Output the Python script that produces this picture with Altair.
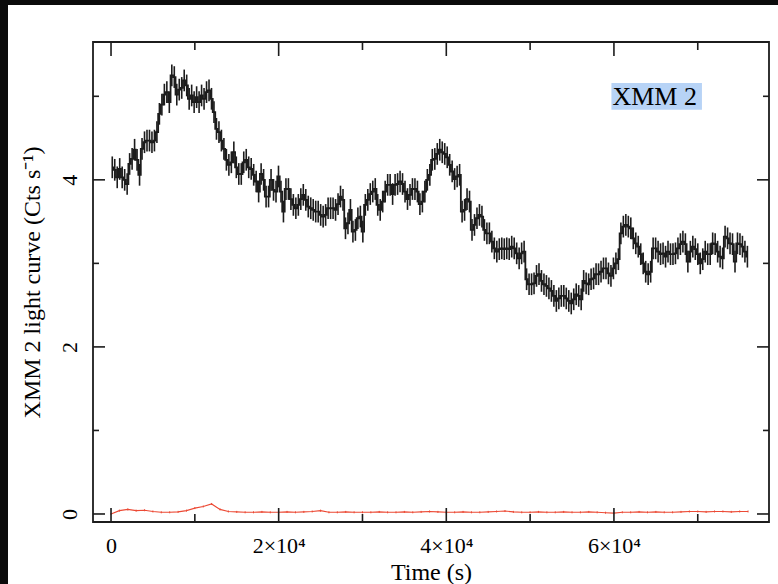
import altair as alt
import pandas as pd

# ---------------- data ----------------
BIN = 296  # s, light-curve bin width
RATE = [
    # 0 - ~19000 s
    4.15, 4.12, 4.03, 4.13, 4.03, 4.0, 3.95, 4.19, 4.25, 4.36,
    4.24, 4.06, 4.37, 4.45, 4.47, 4.47, 4.45, 4.47, 4.57, 4.79,
    4.9, 5.02, 5.05, 4.93, 5.25, 5.23, 5.02, 5.08, 5.1, 5.19,
    5.13, 4.97, 5.01, 4.93, 4.99, 4.93, 5.01, 4.97, 5.05, 5.07,
    4.97, 4.81, 4.61, 4.57, 4.47, 4.37, 4.24, 4.18, 4.21, 4.33,
    4.15, 4.07, 4.07, 4.21, 4.24, 4.15, 4.13, 4.06, 3.98, 3.86,
    4.07, 4.0, 3.80, 3.80,
    # ~19000 - 38500 s
    4.0, 3.88, 3.86, 4.04, 3.86, 3.62, 3.89, 3.89, 3.77, 3.70, 3.66,
    3.70, 3.77, 3.82, 3.76, 3.68, 3.66, 3.64, 3.62, 3.62, 3.58,
    3.56, 3.58, 3.66, 3.66, 3.66, 3.64, 3.71, 3.80, 3.76, 3.42,
    3.48, 3.64, 3.38, 3.40, 3.54, 3.56, 3.38, 3.70, 3.76, 3.83,
    3.86, 3.89, 3.70, 3.64, 3.74, 3.86, 3.94, 3.94, 3.83, 3.94,
    3.95, 3.98, 3.95, 3.86, 3.77, 3.82, 3.89, 3.89, 3.86, 3.71,
    3.74, 3.86, 4.0, 4.06, 4.24,
    # ~38500 - 58500 s
    4.25, 4.31, 4.36, 4.33, 4.31, 4.27, 4.18, 4.10, 4.01, 4.04,
    4.06, 3.62, 3.64, 3.77, 3.74, 3.40, 3.46, 3.54, 3.58, 3.56,
    3.40, 3.36, 3.36, 3.26, 3.18, 3.14, 3.17, 3.18, 3.17, 3.18,
    3.17, 3.20, 3.18, 3.12, 3.06, 3.12, 3.14, 2.81, 2.75, 2.75,
    2.76, 2.85, 2.87, 2.79, 2.75, 2.73, 2.70, 2.67, 2.61, 2.55,
    2.58, 2.61, 2.61, 2.58, 2.55, 2.52, 2.57, 2.63, 2.61, 2.57,
    2.79, 2.76, 2.75, 2.81, 2.82, 2.87, 2.87,
    # ~58500 - 76000 s
    2.90, 2.94, 2.94, 2.88, 2.85, 2.94, 3.0, 3.05, 3.36, 3.44,
    3.46, 3.44, 3.42, 3.30, 3.24, 3.20, 3.11, 3.0, 2.90, 2.87,
    2.90, 3.18, 3.18, 3.14, 3.11, 3.12, 3.08, 3.14, 3.11, 3.11,
    3.12, 3.18, 3.23, 3.26, 3.23, 3.02, 3.14, 3.20, 3.17, 3.11,
    3.0, 3.05, 3.14, 3.11, 3.11, 3.24, 3.23, 3.14, 3.08, 3.06,
    3.32, 3.30, 3.24, 3.23, 3.02, 3.24, 3.23, 3.20, 3.14, 3.08,
]
RATE_ERR = 0.13

BKG_BIN = 1000  # s
BKG = [
    0.0, 0.04, 0.055, 0.04, 0.045, 0.03, 0.02, 0.02, 0.025, 0.04,
    0.07, 0.09, 0.12, 0.055, 0.03, 0.025, 0.02, 0.02, 0.025, 0.02,
    0.02, 0.025, 0.02, 0.025, 0.03, 0.04, 0.02, 0.02, 0.025, 0.02,
    0.02, 0.02, 0.025, 0.02, 0.02, 0.025, 0.02, 0.025, 0.03, 0.025,
    0.02, 0.02, 0.025, 0.02, 0.02, 0.025, 0.03, 0.035, 0.025, 0.02,
    0.02, 0.025, 0.02, 0.02, 0.025, 0.02, 0.02, 0.025, 0.02, 0.015,
    0.01, 0.02, 0.02, 0.025, 0.02, 0.025, 0.02, 0.02, 0.025, 0.03,
    0.03, 0.025, 0.03, 0.03, 0.025, 0.03, 0.03,
]
BKG_ERR = 0.012

X_MAJOR = [0, 20000, 40000, 60000]
X_MINOR = [10000, 30000, 50000, 70000]
Y_MAJOR = [0, 2, 4]
Y_MINOR = [1, 3, 5]
X_DOMAIN = [-2150, 78500]
Y_DOMAIN = [-0.096, 5.65]
LABEL_TEXT = "XMM 2"
LABEL_X = [59700, 70500]
LABEL_Y = [4.84, 5.16]

# ---------------- tables ----------------
n = len(RATE)
lc = pd.DataFrame({
    "t": [i * BIN + BIN / 2 for i in range(n)],
    "rate": RATE,
})
lc["lo"] = lc["rate"] - RATE_ERR
lc["hi"] = lc["rate"] + RATE_ERR

bkg = pd.DataFrame({
    "t": [i * BKG_BIN for i in range(len(BKG))],
    "rate": BKG,
})
bkg["lo"] = bkg["rate"] - BKG_ERR
bkg["hi"] = bkg["rate"] + BKG_ERR

W, H = 676, 480
FONT = "Liberation Serif"
INK = "#1c1c1c"
RED = "#ec4a35"

xs = alt.Scale(domain=X_DOMAIN, nice=False, zero=False)
ys = alt.Scale(domain=Y_DOMAIN, nice=False, zero=False)

x_axis = alt.Axis(
    values=X_MAJOR, ticks=False, domain=False, grid=False, zindex=2,
    labelExpr="datum.value == 0 ? '0' : format(datum.value/10000, 'd') + '×10⁴'",
    labelPadding=13, titlePadding=4, title="Time (s)",
)
y_axis = alt.Axis(
    values=Y_MAJOR, ticks=False, domain=False, grid=False, zindex=2, format="d",
    labelAngle=270, labelAlign="center", labelBaseline="bottom",
    labelPadding=12, titlePadding=14, title="XMM 2 light curve (Cts s⁻¹)",
)

# dark backdrop strips visible at the top and left edges of the reference
strips = alt.Chart(alt.Data(values=[
    {"x0": -93, "x1": W + 9, "y0": -42, "y1": -37},
    {"x0": -93, "x1": -85, "y0": -42, "y1": H + 62},
])).mark_rect(color="#0b0b0b").encode(
    x=alt.X("x0:Q", scale=None), x2="x1:Q",
    y=alt.Y("y0:Q", scale=None), y2="y1:Q",
)

steps = alt.Chart(lc).mark_line(color=INK, strokeWidth=1.8, interpolate="step").encode(
    x=alt.X("t:Q", scale=xs, axis=x_axis),
    y=alt.Y("rate:Q", scale=ys, axis=y_axis),
)
vbars = alt.Chart(lc).mark_rule(color=INK, strokeWidth=1.6).encode(
    x=alt.X("t:Q", scale=xs),
    y=alt.Y("lo:Q", scale=ys),
    y2="hi:Q",
)

bline = alt.Chart(bkg).mark_line(color=RED, strokeWidth=1.1).encode(
    x=alt.X("t:Q", scale=xs),
    y=alt.Y("rate:Q", scale=ys),
)
bbars = alt.Chart(bkg).mark_rule(color=RED, strokeWidth=1).encode(
    x=alt.X("t:Q", scale=xs),
    y=alt.Y("lo:Q", scale=ys),
    y2="hi:Q",
)

# inward ticks on all four sides
xmaj = pd.DataFrame({"v": X_MAJOR})
xmin = pd.DataFrame({"v": X_MINOR})
ymaj = pd.DataFrame({"v": Y_MAJOR})
ymin = pd.DataFrame({"v": Y_MINOR})

def xticks(df, length):
    bot = alt.Chart(df).mark_rule(color=INK, strokeWidth=1.6).encode(
        x=alt.X("v:Q", scale=xs), y=alt.value(H), y2=alt.value(H - length))
    top = alt.Chart(df).mark_rule(color=INK, strokeWidth=1.6).encode(
        x=alt.X("v:Q", scale=xs), y=alt.value(0), y2=alt.value(length))
    return [bot, top]

def yticks(df, length):
    left = alt.Chart(df).mark_rule(color=INK, strokeWidth=1.6).encode(
        y=alt.Y("v:Q", scale=ys), x=alt.value(0), x2=alt.value(length))
    right = alt.Chart(df).mark_rule(color=INK, strokeWidth=1.6).encode(
        y=alt.Y("v:Q", scale=ys), x=alt.value(W), x2=alt.value(W - length))
    return [left, right]

ticks = xticks(xmaj, 14) + xticks(xmin, 8) + yticks(ymaj, 12) + yticks(ymin, 6)

lab_df = pd.DataFrame({"x0": [LABEL_X[0]], "x1": [LABEL_X[1]],
                       "y0": [LABEL_Y[0]], "y1": [LABEL_Y[1]], "txt": [LABEL_TEXT]})
lab_df["ym"] = (lab_df["y0"] + lab_df["y1"]) / 2
lab_bg = alt.Chart(lab_df).mark_rect(color="#b7d3f6").encode(
    x=alt.X("x0:Q", scale=xs), x2="x1:Q",
    y=alt.Y("y0:Q", scale=ys), y2="y1:Q",
)
lab_txt = alt.Chart(lab_df).mark_text(
    font=FONT, fontSize=26, color="black", align="left", baseline="middle", dx=1, dy=1
).encode(
    x=alt.X("x0:Q", scale=xs),
    y=alt.Y("ym:Q", scale=ys),
    text="txt:N",
)

chart = alt.layer(
    strips, steps, vbars, bline, bbars, *ticks, lab_bg, lab_txt
).properties(
    width=W, height=H,
    autosize=alt.AutoSizeParams(type="none"),
    padding={"left": 93, "top": 42, "right": 9, "bottom": 62},
    background="white",
).configure_view(
    stroke=INK, strokeWidth=1.8,
).configure_axis(
    labelFont=FONT, titleFont=FONT, labelFontSize=22, titleFontSize=24,
    labelColor="black", titleColor="black", titleFontWeight="normal",
)

chart.save("out.html", embed_options={"renderer": "svg", "actions": False})
